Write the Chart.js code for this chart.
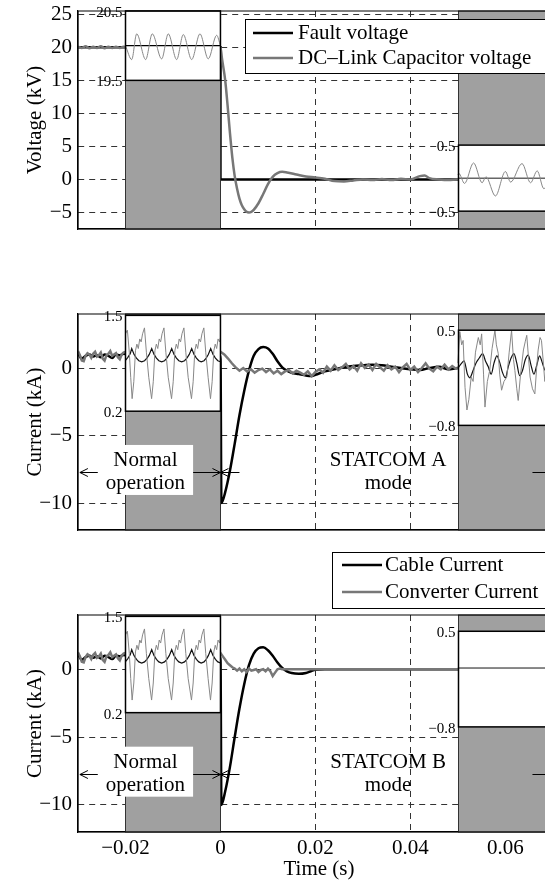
<!DOCTYPE html>
<html lang="en">
<head>
  <meta charset="UTF-8"/>
  <title>Fault response: voltage and currents</title>
  <script src="https://cdn.jsdelivr.net/npm/chart.js"></script>
  <style>
    html, body { margin: 0; overflow: hidden; background: #fff; }
    body { position: relative; width: 545px; height: 884px; }
    canvas { position: absolute; left: 0; }
  </style>
</head>
<body>
  <canvas id="voltChart" width="560" height="250" style="top:0px"></canvas>
  <canvas id="curA" width="560" height="250" style="top:290px"></canvas>
  <canvas id="curB" width="560" height="344" style="top:540px"></canvas>

  <script>
    Chart.defaults.font.family = '"Liberation Serif", "Times New Roman", serif';
    Chart.defaults.font.size = 21;
    Chart.defaults.color = '#000';

    // axes
    const xRange = [-0.03, 0.0715];
    const timeTicks = [-0.02, 0, 0.02, 0.04, 0.06];
    const voltRange = [-7.5, 25.5];
    const voltTicks = [-5, 0, 5, 10, 15, 20, 25];
    const currRange = [-12, 4];
    const currTicks = [-10, -5, 0];

    // --- top plot: voltages [time s, kV]
    const faultVolt = [[-0.03, 20], [0, 20], [0, 0], [0.0715, 0]];
    const dcVolt = [
      [-0.03, 20.1], [-0.0292, 19.9], [-0.0284, 20.15], [-0.0276, 19.85], [-0.0268, 20.1], [-0.026, 19.9],
      [-0.0252, 20.15], [-0.0244, 19.85], [-0.0236, 20.1], [-0.0228, 19.9], [-0.022, 20.1], [-0.0212, 19.9],
      [-0.0204, 20.1], [-0.0196, 20.0], [0, 20.0], [0.0003, 18.4], [0.001, 15.0], [0.0015, 11.2], [0.002, 7.0],
      [0.0025, 3.3], [0.003, 0.5], [0.0035, -1.4], [0.004, -2.9], [0.0045, -3.9], [0.005, -4.5], [0.0055, -4.9],
      [0.006, -5.0], [0.0065, -4.9], [0.007, -4.6], [0.008, -3.6], [0.009, -2.2], [0.010, -0.7], [0.011, 0.4],
      [0.012, 0.95], [0.013, 1.15], [0.014, 1.05], [0.016, 0.75], [0.018, 0.45], [0.020, 0.3], [0.022, 0.1],
      [0.024, -0.25], [0.026, -0.3], [0.028, -0.15], [0.030, 0.0], [0.032, -0.1], [0.034, 0.05], [0.036, -0.1],
      [0.038, 0.1], [0.040, 0.0], [0.042, 0.5], [0.043, 0.6], [0.044, 0.2], [0.046, 0.0], [0.048, -0.1],
      [0.050, 0.0], [0.0715, 0.0]
    ];
    // zoomed views (inset units)
    const dcZoomPre = [
      [-0.02, 20.0], [-0.01869, 19.80], [-0.01764, 20.17], [-0.01575, 19.80], [-0.01436, 20.17], [-0.01238, 19.81],
      [-0.01099, 20.17], [-0.00922, 19.80], [-0.00783, 20.16], [-0.00606, 19.80], [-0.00432, 20.17],
      [-0.00257, 19.81], [-0.0008, 20.15], [0, 20.0]
    ];
    const faultZoomPre = [[-0.02, 20], [0, 20]];
    const dcZoomPost = [
      [0.05, 0.05], [0.0502, 0.07], [0.0514, -0.08], [0.0533, 0.23], [0.0551, -0.07], [0.0559, 0.02],
      [0.0579, -0.27], [0.0600, 0.10], [0.0611, -0.06], [0.0635, 0.22], [0.0653, -0.07], [0.0667, 0.11],
      [0.0681, -0.16], [0.0695, 0.0], [0.0715, 0.05]
    ];
    const faultZoomPost = [[0.05, 0], [0.0715, 0]];

    // --- currents [time s, kA], normal operation part is shared by both modes
    const cablePre = [
      [-0.03, 1.1], [-0.0292, 0.7], [-0.0284, 0.9], [-0.0276, 1.0], [-0.0268, 0.85], [-0.026, 0.95], [-0.0252, 0.8],
      [-0.0244, 1.0], [-0.0236, 0.9], [-0.0228, 0.75], [-0.022, 1.0], [-0.0212, 0.95], [-0.0204, 1.05], [-0.0196, 1.0]
    ];
    const convPre = [
      [-0.03, 1.25], [-0.0296, 0.95], [-0.0292, 0.55], [-0.0288, 0.5], [-0.0284, 0.9], [-0.028, 1.1], [-0.0276, 1.0],
      [-0.0272, 0.75], [-0.0268, 1.05], [-0.0264, 1.2], [-0.026, 0.85], [-0.0256, 0.95], [-0.0252, 1.15],
      [-0.0248, 0.7], [-0.0244, 0.55], [-0.024, 0.95], [-0.0236, 1.05], [-0.0232, 1.25], [-0.0228, 0.9],
      [-0.0224, 1.0], [-0.022, 1.1], [-0.0216, 0.8], [-0.0212, 0.65], [-0.0208, 1.0], [-0.0204, 1.15],
      [-0.02, 1.2], [-0.0196, 1.1]
    ];
    const cablePostA = [
      [0, 0.9], [0.0002, -10], [0.001, -9.2], [0.002, -7.6], [0.003, -5.6], [0.004, -3.5], [0.005, -1.7],
      [0.006, -0.2], [0.007, 0.9], [0.008, 1.4], [0.009, 1.55], [0.010, 1.45], [0.011, 1.05], [0.012, 0.5],
      [0.013, 0.05], [0.014, -0.2], [0.015, -0.35], [0.0165, -0.45], [0.018, -0.55], [0.019, -0.6], [0.020, -0.5],
      [0.022, -0.25], [0.024, -0.1], [0.026, 0.05], [0.028, 0.15], [0.030, 0.2], [0.032, 0.25], [0.034, 0.2],
      [0.036, 0.1], [0.038, 0.0], [0.040, -0.1], [0.042, -0.15], [0.044, 0.0], [0.046, 0.1], [0.048, -0.1],
      [0.050, 0.0], [0.0715, 0.0]
    ];
    const convPostStep = 0.0008;
    const convPostA = [
      1.2, 1.0, 0.7, 0.35, 0.05, -0.2, 0.0, -0.25, -0.1, -0.35, -0.15, -0.05, -0.3, -0.1, -0.4, -0.2,
      -0.45, -0.25, -0.15, -0.4, -0.2, -0.35, -0.5, -0.25, -0.6, -0.3, -0.1, -0.35, 0.1, -0.2, 0.2, -0.15,
      0.05, 0.3, -0.1, 0.15, -0.2, 0.35, 0.0, 0.25, -0.15, 0.3, 0.05, -0.2, 0.2, -0.1, 0.1, -0.3,
      0.05, 0.3, -0.15, 0.1, -0.3, 0.0, 0.35, -0.05, -0.25, 0.1, -0.1, 0.25, -0.1, 0.15, -0.05, 0.05
    ];
    const cablePostB = [
      [0, 0.9], [0.0002, -10], [0.001, -9.0], [0.002, -7.2], [0.003, -5.0], [0.004, -2.9], [0.005, -1.1],
      [0.006, 0.3], [0.007, 1.15], [0.008, 1.55], [0.009, 1.62], [0.010, 1.4], [0.011, 1.0], [0.012, 0.5],
      [0.013, 0.1], [0.014, -0.15], [0.015, -0.28], [0.0165, -0.33], [0.018, -0.27], [0.019, -0.15],
      [0.020, -0.03], [0.022, 0.0], [0.0715, 0.0]
    ];
    const convPostB = [
      [0, 1.2], [0.0005, 0.95], [0.001, 0.7], [0.0015, 0.45], [0.002, 0.3], [0.0025, 0.15], [0.003, 0.05],
      [0.0035, -0.1], [0.004, 0.05], [0.0045, -0.15], [0.005, 0.0], [0.0055, -0.2], [0.006, 0.05], [0.0065, -0.1],
      [0.007, -0.05], [0.0075, 0.0], [0.008, -0.2], [0.0085, -0.05], [0.009, 0.0], [0.0095, -0.15], [0.010, 0.05],
      [0.0105, -0.15], [0.011, -0.5], [0.0115, -0.25], [0.012, 0.0], [0.0125, 0.05], [0.013, 0.0], [0.0715, 0.0]
    ];
    // zoomed normal-operation currents (inset units)
    const cableZoomPre = [
      [-0.02, 0.89], [-0.0195, 0.93], [-0.019, 0.98], [-0.01869, 1.05],
      [-0.01819, 0.97], [-0.01769, 0.92], [-0.01719, 0.885], [-0.01659, 0.87], [-0.01599, 0.885], [-0.01549, 0.92], [-0.01499, 0.97], [-0.01448, 1.05],
      [-0.01398, 0.97], [-0.01348, 0.92], [-0.01298, 0.885], [-0.01238, 0.87], [-0.01178, 0.885], [-0.01128, 0.92], [-0.01078, 0.97], [-0.01027, 1.05],
      [-0.00977, 0.97], [-0.00927, 0.92], [-0.00877, 0.885], [-0.00817, 0.87], [-0.00757, 0.885], [-0.00707, 0.92], [-0.00657, 0.97], [-0.00606, 1.05],
      [-0.00556, 0.97], [-0.00506, 0.92], [-0.00456, 0.885], [-0.00406, 0.87], [-0.00346, 0.885], [-0.00301, 0.92], [-0.00256, 0.97], [-0.00206, 1.05],
      [-0.00156, 0.97], [-0.00106, 0.92], [-0.00056, 0.885], [0, 0.87]
    ];
    const convZoomPre = [
      [-0.02, 1.25], [-0.0196, 1.30], [-0.0192, 1.0], [-0.0189, 0.66], [-0.0186, 0.37],
      [-0.01825, 0.6], [-0.0179, 1.02], [-0.0176, 1.11], [-0.0173, 1.05], [-0.017, 1.18], [-0.0167, 1.14], [-0.0164, 1.25], [-0.016, 1.33], [-0.0156, 1.0], [-0.0151, 0.66], [-0.0145, 0.37],
      [-0.01415, 0.6], [-0.0138, 1.02], [-0.0135, 1.11], [-0.0132, 1.05], [-0.0129, 1.18], [-0.0126, 1.14], [-0.0123, 1.25], [-0.0119, 1.33], [-0.0115, 1.0], [-0.011, 0.66], [-0.0103, 0.37],
      [-0.00995, 0.6], [-0.0096, 1.02], [-0.0093, 1.11], [-0.009, 1.05], [-0.0087, 1.18], [-0.0084, 1.14], [-0.0081, 1.25], [-0.0077, 1.33], [-0.0073, 1.0], [-0.0068, 0.66], [-0.0061, 0.37],
      [-0.00575, 0.6], [-0.0054, 1.02], [-0.0051, 1.11], [-0.0048, 1.05], [-0.0045, 1.18], [-0.0042, 1.14], [-0.0039, 1.25], [-0.0035, 1.33], [-0.0031, 1.0], [-0.0026, 0.66], [-0.0021, 0.37],
      [-0.00175, 0.6], [-0.0014, 1.02], [-0.0011, 1.11], [-0.0008, 1.05], [-0.0005, 1.18], [-0.0002, 1.14], [0, 1.2]
    ];
    const cableZoomPostA = [
      [0.05, -0.02], [0.0508, 0.05], [0.0513, 0.08], [0.052, -0.1], [0.0525, -0.15], [0.0532, -0.05], [0.0538, 0.05],
      [0.0545, 0.12], [0.0552, 0.18], [0.0558, 0.08], [0.0564, 0.0], [0.057, -0.1], [0.0576, 0.05], [0.0582, 0.15],
      [0.0588, 0.06], [0.0594, -0.08], [0.06, -0.15], [0.0606, 0.0], [0.0612, 0.12], [0.0618, 0.18], [0.0624, 0.05],
      [0.063, -0.12], [0.0636, -0.05], [0.0642, 0.1], [0.0648, 0.16], [0.0654, 0.02], [0.066, -0.1], [0.0666, 0.02],
      [0.0672, 0.15], [0.0678, 0.05], [0.0684, -0.05], [0.0695, 0.05]
    ];
    const convZoomPostA = [
      [0.05, 0.05], [0.0504, 0.48], [0.0508, 0.30], [0.0511, 0.36], [0.0515, -0.28], [0.0519, -0.59], [0.0523, -0.45],
      [0.0528, -0.14], [0.0532, -0.2], [0.0537, 0.2], [0.0543, 0.40], [0.0547, 0.30], [0.055, 0.45], [0.0554, -0.1],
      [0.0557, -0.55], [0.0562, -0.2], [0.0567, -0.05], [0.0572, 0.25], [0.0578, 0.50], [0.0581, 0.30], [0.0585, 0.18],
      [0.0588, -0.1], [0.0592, -0.32], [0.0597, -0.2], [0.0603, -0.14], [0.0608, 0.2], [0.0613, 0.50], [0.0617, 0.1],
      [0.062, -0.05], [0.0624, -0.3], [0.0627, -0.46], [0.0632, -0.1], [0.0638, 0.23], [0.0642, 0.35], [0.0645, 0.43],
      [0.0649, 0.1], [0.0652, -0.14], [0.0657, -0.3], [0.0662, -0.37], [0.0666, 0.0], [0.0669, 0.23], [0.0673, 0.4],
      [0.0676, 0.36], [0.068, 0.05], [0.0683, -0.2], [0.0688, 0.1], [0.0695, 0.2]
    ];
    const flatZoomPostB = [[0.05, 0], [0.0715, 0]];

    // zoom windows: time span, box in main units, inset value range
    const voltInsets = [
      { id: 'yInL', x0: -0.02, x1: 0, boxLo: 15, boxHi: 25.5, lo: 19.5, hi: 20.5 },
      { id: 'yInR', x0: 0.05, x1: 0.0715, boxLo: -4.8, boxHi: 5.2, lo: -0.5, hi: 0.5 }
    ];
    const currInsets = [
      { id: 'yInL', x0: -0.02, x1: 0, boxLo: -3.2, boxHi: 3.9, lo: 0.2, hi: 1.5 },
      { id: 'yInR', x0: 0.05, x1: 0.0715, boxLo: -4.25, boxHi: 2.8, lo: -0.8, hi: 0.5 }
    ];

    const GRAY = '#777';
    const fmt = v => (v < 0 ? '\u2212' + String(-v) : String(v));
    const pts = pairs => pairs.map(([x, y]) => ({ x, y }));
    const seq = (start, step, vals) => vals.map((y, i) => ({ x: +(start + i * step).toFixed(5), y }));

    function line(data, color, width, extra) {
      return Object.assign({ data, borderColor: color, borderWidth: width, pointRadius: 0,
        fill: false, tension: 0, order: 2 }, extra);
    }
    const smooth = { cubicInterpolationMode: 'monotone' };
    const inL = { yAxisID: 'yInL', order: 1, inset: true };
    const inR = { yAxisID: 'yInR', order: 1, inset: true };

    const overlays = {};

    function drawBoxes(chart) {
      const cfg = overlays[chart.canvas.id];
      const { ctx, chartArea: a } = chart;
      const xs = chart.scales.x, ys = chart.scales.y;
      ctx.save();
      cfg.insets.forEach(ins => {
        const l = Math.round(xs.getPixelForValue(ins.x0)) + 0.5;
        const r = Math.round(xs.getPixelForValue(ins.x1)) + 0.5;
        ctx.fillStyle = '#a0a0a0';
        ctx.fillRect(l, a.top, r - l, a.bottom - a.top);
        ctx.strokeStyle = '#333';
        ctx.lineWidth = 1;
        ctx.strokeRect(l, a.top, r - l, a.bottom - a.top);
        const t = ys.getPixelForValue(ins.boxHi), b = ys.getPixelForValue(ins.boxLo);
        ctx.fillStyle = '#fff';
        ctx.fillRect(l, t, r - l, b - t);
      });
      ctx.restore();
    }

    function arrowHead(ctx, x, y, dir) {
      ctx.beginPath();
      ctx.moveTo(x - dir * 8, y - 4);
      ctx.lineTo(x, y);
      ctx.lineTo(x - dir * 8, y + 4);
      ctx.stroke();
    }

    const overlayPlugin = {
      id: 'overlay',
      beforeDraw(chart) { chart.$boxesDone = false; },
      beforeDatasetDraw(chart, args) {
        if (!chart.$boxesDone && chart.data.datasets[args.index].inset) {
          drawBoxes(chart);
          chart.$boxesDone = true;
        }
      },
      afterDatasetsDraw(chart) {
        if (!chart.$boxesDone) { drawBoxes(chart); chart.$boxesDone = true; }
      },
      afterDraw(chart) {
        const cfg = overlays[chart.canvas.id];
        const { ctx, chartArea: a } = chart;
        const xs = chart.scales.x, ys = chart.scales.y;
        ctx.save();
        // zoom boxes: frame + range labels
        cfg.insets.forEach(ins => {
          const l = Math.round(xs.getPixelForValue(ins.x0)) + 0.5;
          const r = xs.getPixelForValue(ins.x1);
          const t = ys.getPixelForValue(ins.boxHi), b = ys.getPixelForValue(ins.boxLo);
          ctx.strokeStyle = '#000';
          ctx.lineWidth = 1.5;
          ctx.strokeRect(l, t, r - l, b - t);
          ctx.font = '15px "Liberation Serif", serif';
          ctx.fillStyle = '#000';
          ctx.textAlign = 'right';
          ctx.textBaseline = 'middle';
          ctx.fillText(fmt(ins.hi), l - 3, t + 2);
          ctx.fillText(fmt(ins.lo), l - 3, b + 2);
        });
        // axes box
        ctx.strokeStyle = '#000';
        ctx.lineWidth = 1.2;
        ctx.beginPath();
        ctx.moveTo(a.left, a.bottom); ctx.lineTo(a.left, a.top); ctx.lineTo(a.right, a.top);
        ctx.moveTo(a.left, a.bottom); ctx.lineTo(a.right, a.bottom);
        ctx.stroke();
        // arrows
        ctx.lineWidth = 1;
        (cfg.arrows || []).forEach(ar => {
          const x0 = xs.getPixelForValue(ar.x0), x1 = xs.getPixelForValue(ar.x1);
          const y = Math.round(ys.getPixelForValue(ar.y)) + 0.5;
          ctx.beginPath(); ctx.moveTo(x0, y); ctx.lineTo(x1, y); ctx.stroke();
          if (ar.start) arrowHead(ctx, x0, y, -1);
          if (ar.end) arrowHead(ctx, x1, y, 1);
        });
        // text notes
        ctx.font = '21px "Liberation Serif", serif';
        ctx.textAlign = 'center';
        ctx.textBaseline = 'middle';
        (cfg.notes || []).forEach(n => {
          const cx = xs.getPixelForValue(n.x), cy = ys.getPixelForValue(n.y);
          const lh = 23;
          if (n.bg) {
            const w = Math.max(...n.lines.map(s => ctx.measureText(s).width)) + 16;
            const h = n.lines.length * lh + 4;
            ctx.fillStyle = '#fff';
            ctx.fillRect(cx - w / 2, cy - h / 2 - 2, w, h);
          }
          ctx.fillStyle = '#000';
          n.lines.forEach((s, i) => ctx.fillText(s, cx, cy + (i - (n.lines.length - 1) / 2) * lh));
        });
        // legend
        const lg = cfg.legend;
        if (lg) {
          ctx.fillStyle = '#fff';
          ctx.fillRect(lg.x, lg.y, lg.w, lg.h);
          ctx.strokeStyle = '#000';
          ctx.lineWidth = 1;
          ctx.strokeRect(lg.x + 0.5, lg.y + 0.5, lg.w, lg.h);
          ctx.textAlign = 'left';
          lg.rows.forEach(row => {
            ctx.strokeStyle = row.color;
            ctx.lineWidth = 2.5;
            ctx.beginPath(); ctx.moveTo(lg.line[0], row.y); ctx.lineTo(lg.line[1], row.y); ctx.stroke();
            ctx.fillStyle = '#000';
            ctx.fillText(row.label, lg.textX, row.y);
          });
        }
        ctx.restore();
      }
    };

    function makeChart(id, c) {
      overlays[id] = c;
      const gridOpts = { color: '#333', lineWidth: 1, drawTicks: false };
      const borderOpts = { display: true, color: '#000', width: 1.2, dash: [6, 5] };
      const scales = {
        x: {
          type: 'linear', min: xRange[0], max: xRange[1], bounds: 'data',
          afterBuildTicks: s => { s.ticks = timeTicks.map(v => ({ value: v })); },
          afterFit: s => { s.height = c.showX ? 52 : 0; s.paddingLeft = 0; s.paddingRight = 0; },
          grid: gridOpts,
          border: borderOpts,
          ticks: { display: c.showX, padding: 4, maxRotation: 0, autoSkip: false, callback: v => fmt(v) },
          title: { display: c.showX, text: 'Time (s)', padding: { top: 0, bottom: 2 } }
        },
        y: {
          type: 'linear', min: c.range[0], max: c.range[1], bounds: 'data',
          afterBuildTicks: s => { s.ticks = c.ticks.map(v => ({ value: v })); },
          afterFit: s => { s.width = 78; s.paddingTop = 0; s.paddingBottom = 0; },
          grid: gridOpts,
          border: borderOpts,
          ticks: { padding: 6, autoSkip: false, callback: v => fmt(v) },
          title: { display: true, text: c.yTitle, padding: { top: 23, bottom: 0 } }
        }
      };
      c.insets.forEach(ins => {
        const k = (ins.boxHi - ins.boxLo) / (ins.hi - ins.lo);
        scales[ins.id] = {
          type: 'linear', axis: 'y', display: false,
          min: ins.lo - (ins.boxLo - c.range[0]) / k,
          max: ins.hi + (c.range[1] - ins.boxHi) / k
        };
      });
      return new Chart(document.getElementById(id), {
        type: 'line',
        data: { datasets: c.datasets },
        options: {
          responsive: false,
          animation: false,
          devicePixelRatio: 1,
          layout: { padding: { top: c.pad[0], bottom: c.pad[1], left: 0, right: 0 } },
          plugins: { legend: { display: false }, tooltip: { enabled: false } },
          scales
        },
        plugins: [overlayPlugin]
      });
    }

    const modeArrows = [
      { x0: -0.0296, x1: 0, y: -7.7, start: true, end: true },
      { x0: 0, x1: 0.004, y: -7.7, start: true },
      { x0: 0.0657, x1: 0.0715, y: -7.7 }
    ];
    const modeNotes = label => [
      { lines: ['Normal', 'operation'], x: -0.0158, y: -7.7, bg: true },
      { lines: [label, 'mode'], x: 0.0353, y: -7.7, bg: false }
    ];

    makeChart('voltChart', {
      range: voltRange, ticks: voltTicks, yTitle: 'Voltage (kV)', showX: false, pad: [11, 21],
      insets: voltInsets,
      legend: { x: 245, y: 19, w: 330, h: 54, line: [253, 293], textX: 298,
        rows: [{ label: 'Fault voltage', color: '#000', y: 33 },
               { label: 'DC\u2013Link Capacitor voltage', color: GRAY, y: 58 }] },
      datasets: [
        line(pts(dcVolt), GRAY, 2.5, Object.assign({ label: 'DC\u2013Link Capacitor voltage' }, smooth)),
        line(pts(faultVolt), '#000', 2.5, { label: 'Fault voltage' }),
        line(pts(dcZoomPre), '#888', 1, Object.assign({}, inL, smooth)),
        line(pts(faultZoomPre), '#000', 1.2, inL),
        line(pts(dcZoomPost), '#888', 1, Object.assign({}, inR, smooth)),
        line(pts(faultZoomPost), '#666', 1.5, inR)
      ]
    });

    makeChart('curA', {
      range: currRange, ticks: currTicks, yTitle: 'Current (kA)', showX: false, pad: [24, 10],
      insets: currInsets, arrows: modeArrows, notes: modeNotes('STATCOM A'),
      datasets: [
        line(pts(convPre).concat(seq(0, convPostStep, convPostA), [{ x: 0.0715, y: 0 }]), GRAY, 2.5, { label: 'Converter Current' }),
        line(pts(cablePre.concat(cablePostA)), '#000', 2.5, Object.assign({ label: 'Cable Current' }, smooth)),
        line(pts(convZoomPre), '#888', 1, inL),
        line(pts(cableZoomPre), '#111', 1.2, inL),
        line(pts(convZoomPostA), '#888', 1, inR),
        line(pts(cableZoomPostA), '#111', 1.2, Object.assign({}, inR, smooth))
      ]
    });

    makeChart('curB', {
      range: currRange, ticks: currTicks, yTitle: 'Current (kA)', showX: true, pad: [75, 0],
      insets: currInsets, arrows: modeArrows, notes: modeNotes('STATCOM B'),
      legend: { x: 332, y: 12, w: 250, h: 56, line: [342, 382], textX: 385,
        rows: [{ label: 'Cable Current', color: '#000', y: 25 },
               { label: 'Converter Current', color: GRAY, y: 52 }] },
      datasets: [
        line(pts(convPre.concat(convPostB)), GRAY, 2.5, { label: 'Converter Current' }),
        line(pts(cablePre.concat(cablePostB)), '#000', 2.5, Object.assign({ label: 'Cable Current' }, smooth)),
        line(pts(convZoomPre), '#888', 1, inL),
        line(pts(cableZoomPre), '#111', 1.2, inL),
        line(pts(flatZoomPostB), '#888', 1.2, inR),
        line(pts(flatZoomPostB), '#111', 1, inR)
      ]
    });
  </script>
</body>
</html>
